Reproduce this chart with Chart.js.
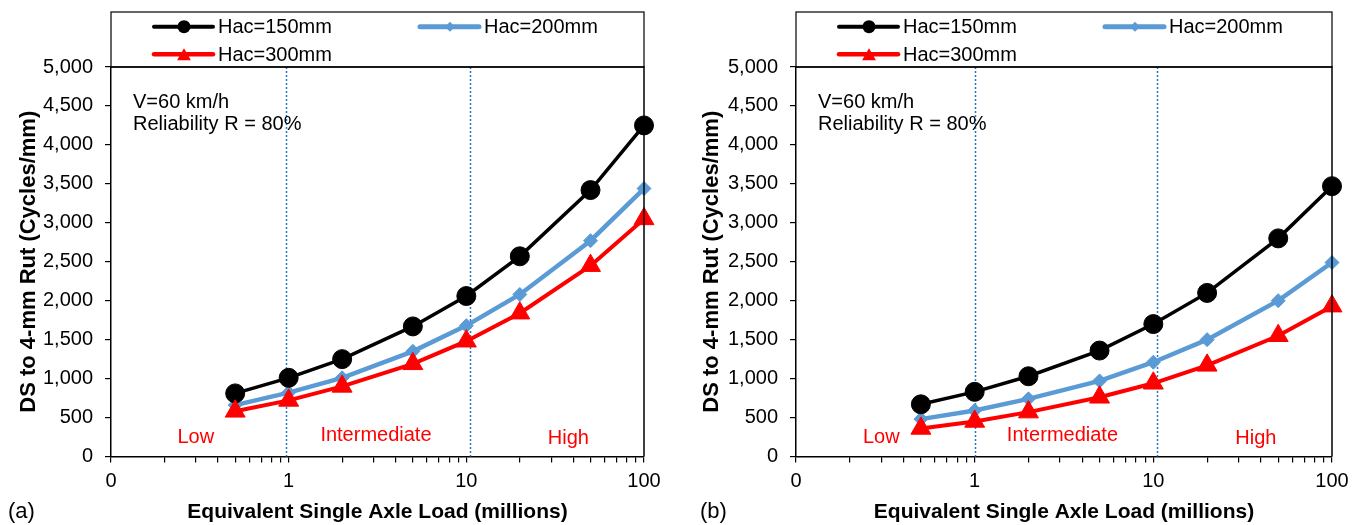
<!DOCTYPE html>
<html>
<head>
<meta charset="utf-8">
<script src="https://cdn.jsdelivr.net/npm/chart.js@4.4.1/dist/chart.umd.min.js"></script>
<style>
  html, body { margin: 0; padding: 0; background: #fff; }
  #wrap { position: relative; width: 1359px; height: 525px; overflow: hidden; }
  .panel { position: absolute; top: 0; }
</style>
</head>
<body>
<div id="wrap">
  <div class="panel" style="left:0px"><canvas id="chartA" width="680" height="525"></canvas></div>
  <div class="panel" style="left:680px"><canvas id="chartB" width="679" height="525"></canvas></div>
</div>
<script>
// ESAL levels (millions) shared by every series
const esal = [0.5, 1, 2, 5, 10, 20, 50, 100];

const seriesNames = ['Hac=150mm', 'Hac=200mm', 'Hac=300mm'];

// Panel (a): DS to 4-mm rut (cycles/mm)
const dsA_150 = [810, 1010, 1250, 1670, 2060, 2570, 3420, 4250];
const dsA_200 = [660, 820, 1010, 1350, 1680, 2080, 2770, 3440];
const dsA_300 = [580, 720, 900, 1190, 1480, 1840, 2450, 3050];

// Panel (b): DS to 4-mm rut (cycles/mm)
const dsB_150 = [670, 830, 1030, 1360, 1700, 2100, 2800, 3470];
const dsB_200 = [480, 590, 740, 970, 1210, 1500, 2000, 2490];
const dsB_300 = [360, 450, 570, 760, 940, 1170, 1550, 1930];

// Traffic level boundaries (millions ESAL) and class labels
const boundsA = [0.97, 10.5];
const boundsB = [1.0, 10.5];
const trafficClasses = ['Low', 'Intermediate', 'High'];
const classAnchorX = [0.3, 3.1, 37.5];
const classAnchorY = [240, 265, 230];

// Axis ticks
const xTickValues = [0.1, 1, 10, 100];
const xTickLabels = ['0', '1', '10', '100'];
const yMax = 5000;
const yStep = 500;

const noteLines = ['V=60 km/h', 'Reliability R = 80%'];
const yTitle = 'DS to 4-mm Rut (Cycles/mm)';
const xTitle = 'Equivalent Single Axle Load (millions)';

const FONT = "'Liberation Sans', Arial, Helvetica, sans-serif";
const COLORS = ['#000000', '#5B9BD5', '#FF0000'];

function minorTicks() {
  const out = [];
  for (let d = 0.1; d < 100; d *= 10) {
    for (let m = 1; m < 10; m++) out.push(+(d * m).toPrecision(3));
  }
  out.push(100);
  return out;
}

const panelPlugin = {
  id: 'panelDecor',
  beforeDatasetsDraw(chart, args, opts) {
    const { ctx, chartArea: a, scales: { x, y } } = chart;
    ctx.save();
    // traffic level boundaries
    ctx.strokeStyle = '#2176C7';
    ctx.lineWidth = 1.5;
    ctx.setLineDash([2, 2]);
    opts.bounds.forEach(b => {
      const px = Math.round(x.getPixelForValue(b)) + 0.5;
      ctx.beginPath();
      ctx.moveTo(px, a.top);
      ctx.lineTo(px, a.bottom);
      ctx.stroke();
    });
    ctx.setLineDash([]);
    // class labels
    ctx.fillStyle = '#FF0000';
    ctx.font = '20px ' + FONT;
    ctx.textAlign = 'center';
    ctx.textBaseline = 'middle';
    trafficClasses.forEach((t, i) => {
      ctx.fillText(t, x.getPixelForValue(classAnchorX[i]), y.getPixelForValue(classAnchorY[i]));
    });
    // notes
    ctx.fillStyle = '#000';
    ctx.textAlign = 'left';
    noteLines.forEach((t, i) => {
      ctx.fillText(t, a.left + 22, a.top + 35 + i * 22);
    });
    ctx.restore();
  },
  afterDraw(chart, args, opts) {
    const { ctx, chartArea: a } = chart;
    ctx.save();
    // plot frame (top and right sides)
    ctx.strokeStyle = '#000';
    ctx.lineWidth = 1.5;
    ctx.beginPath();
    ctx.moveTo(a.left, a.top);
    ctx.lineTo(a.right, a.top);
    ctx.lineTo(a.right, a.bottom);
    ctx.stroke();
    // legend box above plot
    const top = 12;
    ctx.lineWidth = 1.2;
    ctx.strokeRect(a.left, top, a.right - a.left, a.top - top);
    const rows = [top + 14.7, top + 42.3];
    const cols = [a.left + 43, a.left + 309];
    const pos = [[cols[0], rows[0]], [cols[1], rows[0]], [cols[0], rows[1]]];
    const markerR = [6.5, 5, 8];
    chart.data.datasets.forEach((ds, i) => {
      const [lx, ly] = pos[i];
      ctx.strokeStyle = ds.borderColor;
      ctx.lineWidth = ds.borderWidth + 0.5;
      ctx.lineCap = 'round';
      ctx.beginPath();
      ctx.moveTo(lx, ly);
      ctx.lineTo(lx + 59, ly);
      ctx.stroke();
      ctx.fillStyle = ds.pointBackgroundColor;
      Chart.helpers.drawPoint(ctx, {
        pointStyle: ds.pointStyle, radius: markerR[i], borderWidth: 0, rotation: 0
      }, lx + 30, ly + (ds.pointStyle === 'triangle' ? 2 : 0));
      ctx.fillStyle = '#000';
      ctx.font = '20px ' + FONT;
      ctx.textAlign = 'left';
      ctx.textBaseline = 'middle';
      ctx.fillText(ds.label, lx + 64, ly + 1);
    });
    // panel letter
    ctx.font = '22px ' + FONT;
    ctx.fillStyle = '#000';
    ctx.textAlign = 'left';
    ctx.textBaseline = 'middle';
    ctx.fillText(opts.letter, opts.letterX, 512);
    ctx.restore();
  }
};

function makeChart(id, p) {
  const W = p.width, H = 525;
  const dsStyle = [
    { borderWidth: 3.5, pointStyle: 'circle', pointRadius: 9.5, order: 1 },
    { borderWidth: 4.5, pointStyle: 'rectRot', pointRadius: 7, order: 2 },
    { borderWidth: 4, pointStyle: 'triangle', pointRadius: 11.5, order: 0 }
  ];
  const datasets = p.series.map((vals, i) => ({
    label: seriesNames[i],
    data: esal.map((e, k) => ({ x: e, y: vals[k] })),
    borderColor: COLORS[i],
    backgroundColor: COLORS[i],
    pointBackgroundColor: COLORS[i],
    pointBorderColor: COLORS[i],
    pointBorderWidth: 1,
    tension: 0,
    clip: false,
    ...dsStyle[i]
  }));
  return new Chart(document.getElementById(id), {
    type: 'line',
    data: { datasets },
    plugins: [panelPlugin],
    options: {
      responsive: false,
      animation: false,
      devicePixelRatio: 1,
      layout: { padding: { top: p.area.top, right: W - p.area.right, left: 0, bottom: 0 } },
      plugins: {
        legend: { display: false },
        tooltip: { enabled: false },
        panelDecor: { bounds: p.bounds, letter: p.letter, letterX: p.letterX }
      },
      scales: {
        x: {
          type: 'logarithmic',
          min: 0.1,
          max: 100,
          afterFit: s => { s.height = H - p.area.bottom; },
          afterBuildTicks: s => { s.ticks = minorTicks().map(v => ({ value: v })); },
          grid: { drawOnChartArea: false, drawTicks: true, tickLength: 6, color: '#000', lineWidth: 1.2 },
          border: { display: true, color: '#000', width: 1.5 },
          ticks: {
            autoSkip: false,
            maxRotation: 0,
            padding: 7,
            color: '#000',
            font: { family: FONT, size: 20 },
            callback: v => {
              const k = xTickValues.findIndex(t => Math.abs(t - v) < 1e-9);
              return k >= 0 ? xTickLabels[k] : '';
            }
          },
          title: {
            display: true,
            text: xTitle,
            color: '#000',
            font: { family: FONT, size: 21, weight: 'bold' },
            padding: { top: 0, bottom: 0 }
          }
        },
        y: {
          min: 0,
          max: yMax,
          afterFit: s => { s.width = p.area.left; },
          grid: { drawOnChartArea: false, drawTicks: true, tickLength: 6, color: '#000', lineWidth: 1.2 },
          border: { display: true, color: '#000', width: 1.5 },
          ticks: {
            stepSize: yStep,
            padding: 12,
            color: '#000',
            font: { family: FONT, size: 20 },
            callback: v => v.toLocaleString('en-US')
          },
          title: {
            display: true,
            text: yTitle,
            color: '#000',
            font: { family: FONT, size: 22, weight: 'bold' },
            padding: { top: p.yTitlePad, bottom: 0 }
          }
        }
      }
    }
  });
}

makeChart('chartA', {
  width: 680,
  series: [dsA_150, dsA_200, dsA_300],
  bounds: boundsA,
  letter: '(a)',
  letterX: 8,
  yTitlePad: 16,
  area: { left: 111, right: 644, top: 67, bottom: 456.5 }
});

makeChart('chartB', {
  width: 679,
  series: [dsB_150, dsB_200, dsB_300],
  bounds: boundsB,
  letter: '(b)',
  letterX: 20,
  yTitlePad: 19,
  area: { left: 116, right: 652, top: 67, bottom: 456.5 }
});
</script>
</body>
</html>
